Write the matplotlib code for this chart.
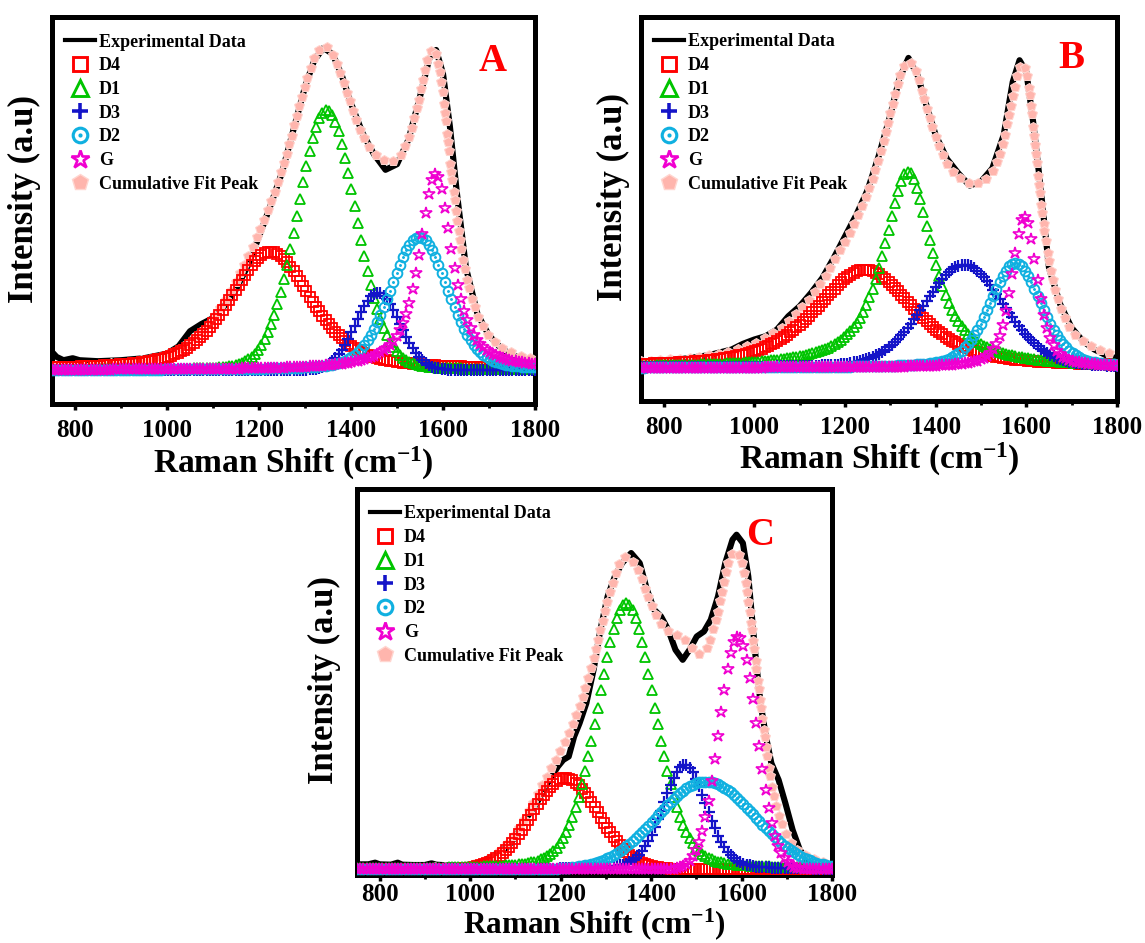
import numpy as np
import matplotlib.pyplot as plt
from matplotlib.lines import Line2D

plt.rcParams['font.family'] = ['Liberation Serif', 'DejaVu Serif']
plt.rcParams['font.weight'] = 'bold'
plt.rcParams['mathtext.fontset'] = 'custom'
plt.rcParams['mathtext.rm'] = 'Liberation Serif:bold'
plt.rcParams['mathtext.it'] = 'Liberation Serif:bold'
plt.rcParams['mathtext.bf'] = 'Liberation Serif:bold'

# ---- band names (fit components) ----
bands = ["D4", "D1", "D3", "D2", "G"]

# ---- Panel A: fitted band parameters (center, FWHM, height, Lorentz fraction) ----
A_center = [1225, 1347, 1458, 1548, 1584]
A_fwhm = [210, 150, 112, 147, 85]
A_height = [360, 790, 235, 405, 597]
A_eta = [0.5, 0.1, 0.0, 0.25, 0.8]
A_exp_x = [750, 760, 775, 795, 810, 850, 900, 950, 1000, 1025, 1050, 1075, 1100,
           1125, 1150, 1175, 1200, 1225, 1250, 1275, 1300, 1320, 1340, 1360, 1380,
           1400, 1425, 1450, 1475, 1500, 1525, 1550, 1570, 1585, 1600, 1615, 1630,
           1650, 1675, 1700, 1725, 1750, 1775, 1800]
A_exp_y = [55, 40, 30, 36, 30, 27, 30, 36, 50, 72, 118, 140, 158,
           195, 245, 315, 405, 500, 600, 730, 860, 940, 978, 960, 895,
           810, 720, 655, 608, 625, 700, 830, 945, 972, 900, 740, 540,
           310, 170, 105, 68, 45, 35, 28]

# ---- Panel B ----
B_center = [1244, 1339, 1462, 1576, 1596]
B_fwhm = [260, 130, 210, 136, 67]
B_height = [295, 590, 310, 315, 455]
B_eta = [0.6, 0.85, 0.2, 0.35, 0.5]
B_exp_x = [750, 800, 850, 900, 950, 975, 1000, 1025, 1050, 1075, 1100, 1125, 1150,
           1175, 1200, 1225, 1250, 1275, 1300, 1320, 1340, 1360, 1375, 1400, 1425,
           1450, 1475, 1500, 1525, 1550, 1570, 1585, 1600, 1615, 1630, 1650, 1675,
           1700, 1725, 1750, 1775, 1800]
B_exp_y = [17, 22, 28, 38, 55, 72, 85, 95, 115, 155, 185, 225, 270,
           330, 395, 460, 535, 640, 760, 870, 932, 880, 810, 700, 628,
           585, 548, 560, 600, 700, 860, 925, 890, 740, 560, 300, 190,
           120, 80, 55, 38, 28]

# ---- Panel C ----
C_center = [1210, 1345, 1474, 1521, 1592]
C_fwhm = [175, 150, 114, 253, 98]
C_height = [273, 798, 313, 263, 698]
C_eta = [0.0, 0.2, 0.2, 0.0, 0.0]
C_exp_x = [750, 775, 790, 800, 825, 840, 850, 875, 900, 915, 925, 950, 975, 1000,
           1025, 1050, 1084, 1100, 1116, 1132, 1147, 1171, 1194, 1206, 1218, 1230,
           1242, 1257, 1273, 1288, 1304, 1320, 1336, 1356, 1375, 1391, 1407, 1422,
           1438, 1454, 1470, 1485, 1501, 1517, 1532, 1548, 1564, 1580, 1589, 1603,
           1615, 1623, 1631, 1642, 1654, 1666, 1682, 1697, 1713, 1729, 1745, 1768, 1800]
C_exp_y = [15, 15, 20, 15, 14, 20, 14, 13, 13, 18, 14, 12, 12, 14,
           22, 40, 68, 98, 138, 168, 198, 258, 308, 328, 338, 398,
           438, 498, 598, 718, 818, 878, 918, 948, 918, 838, 778, 758,
           718, 658, 628, 658, 698, 713, 748, 818, 918, 988, 1003, 978,
           878, 758, 638, 498, 398, 318, 268, 198, 118, 58, 28, 13, 8]

styles = {
    "D4": dict(marker='s', color='#FF0000', ms=6.5, mfc='none', mew=1.3),
    "D1": dict(marker='^', color='#00C400', ms=7.5, mfc='none', mew=1.3),
    "D3": dict(marker='+', color='#1414C8', ms=8.0, mew=1.6),
    "D2": dict(marker='o', color='#10B0E0', ms=7.0, mfc='none', mew=1.4),
    "G":  dict(marker='*', color='#F000D0', ms=9.0, mfc='none', mew=1.2),
}
pink = '#FFB5AD'


def band(x, c, w, h, eta):
    g = np.exp(-4 * np.log(2) * ((x - c) / w) ** 2)
    l = 1.0 / (1.0 + 4 * ((x - c) / w) ** 2)
    return h * (eta * l + (1 - eta) * g)


def panel(ax, centers, fwhm, heights, etas, ex, ey, ylim, letter, lpos, ylab_x, ylab_y,
          xlab_y, tpad, xlab_size):
    xs = np.arange(750, 1800.1, 7.0)
    xf = np.arange(750, 1800.1, 1.0)
    ax.plot(ex, ey, color='black', lw=4.4, solid_joinstyle='round', zorder=2)
    cum = np.zeros_like(xf)
    for c, w, h, e in zip(centers, fwhm, heights, etas):
        cum += band(xf, c, w, h, e)
    ax.plot(xf, cum, ls='none', marker='p', ms=7.4, color=pink, mec='#FFD6D0',
            mew=0.7, markevery=0.016, zorder=3)
    for name, c, w, h, e in zip(bands, centers, fwhm, heights, etas):
        st = styles[name]
        ys = band(xs, c, w, h, e)
        ax.plot(xs, ys, ls='none', zorder=4, **st)
        if name == "D2":
            ax.plot(xs, ys, ls='none', marker='.', ms=2.2, color=st['color'], zorder=4)
    ax.set_xlim(750, 1800)
    ax.set_ylim(*ylim)
    ax.set_xticks([800, 1000, 1200, 1400, 1600, 1800])
    ax.set_xticks([900, 1100, 1300, 1500, 1700], minor=True)
    ax.set_yticks([])
    ax.tick_params(axis='x', which='major', direction='out', length=4, width=2.5,
                   labelsize=18, pad=tpad)
    ax.tick_params(axis='x', which='minor', direction='out', length=3, width=2.0)
    for sp in ax.spines.values():
        sp.set_linewidth(3.6)
    ax.set_xlabel(r'Raman Shift (cm$^{-1}$)', fontsize=xlab_size, fontweight='bold')
    ax.set_ylabel('Intensity (a.u)', fontsize=25, fontweight='bold')
    ax.xaxis.set_label_coords(0.5, xlab_y)
    ax.yaxis.set_label_coords(ylab_x, ylab_y)
    ax.text(lpos[0], lpos[1], letter, transform=ax.transAxes, color='#FF0000',
            fontsize=28, fontweight='bold', ha='center', va='center')

    handles = [Line2D([], [], color='black', lw=3)]
    for name in bands:
        st = dict(styles[name])
        st['ms'] = st['ms'] * 1.5
        st['mew'] = st['mew'] * 1.6
        h1 = Line2D([], [], ls='none', **st)
        if name == "D2":
            h2 = Line2D([], [], ls='none', marker='.', ms=4, color=st['color'])
            handles.append((h1, h2))
        else:
            handles.append(h1)
    handles.append(Line2D([], [], ls='none', marker='p', ms=12, color=pink,
                          mec='#FFD6D0', mew=1.0))
    labels = ["Experimental Data"] + bands + ["Cumulative Fit Peak"]
    ax.legend(handles, labels, loc='upper left', frameon=False, fontsize=13,
              handlelength=1.7, handletextpad=0.2, labelspacing=0.37,
              borderaxespad=0.3, bbox_to_anchor=(0.0, 0.99))


fig = plt.figure(figsize=(11.45, 9.43), dpi=100)
axA = fig.add_axes([52 / 1145, 1 - 404 / 943, 483 / 1145, 387 / 943])
axB = fig.add_axes([641 / 1145, 1 - 401 / 943, 476 / 1145, 384 / 943])
axC = fig.add_axes([357 / 1145, 1 - 875 / 943, 475 / 1145, 386 / 943])

panel(axA, A_center, A_fwhm, A_height, A_eta, A_exp_x, A_exp_y, (-103, 1072),
      'A', (0.913, 0.885), -0.022, 0.53, -0.105, 7, 24)
panel(axB, B_center, B_fwhm, B_height, B_eta, B_exp_x, B_exp_y, (-100, 1055),
      'B', (0.905, 0.891), -0.024, 0.53, -0.105, 7, 24)
panel(axC, C_center, C_fwhm, C_height, C_eta, C_exp_x, C_exp_y, (-17, 1140),
      'C', (0.848, 0.879), -0.034, 0.505, -0.082, 2, 22.5)

fig.savefig('out.png', dpi=100)
